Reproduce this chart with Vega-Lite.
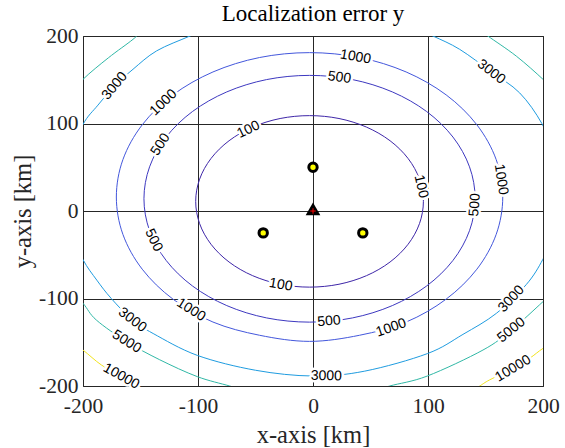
{
  "$schema": "https://vega.github.io/schema/vega-lite/v6.json",
  "autosize": {"type": "none"},
  "padding": {"left": 83, "top": 36, "right": 22, "bottom": 62},
  "width": 460,
  "height": 350,
  "title": {"text": "Localization error y", "font": "Liberation Serif", "fontSize": 23, "fontWeight": "normal", "color": "#000000", "baseline": "alphabetic", "offset": 0, "dy": 19, "anchor": "middle"},
  "config": {
    "view": {"stroke": "#262626", "strokeWidth": 1},
    "axis": {
      "grid": true, "gridColor": "#262626", "gridOpacity": 1, "gridWidth": 1,
      "ticks": false, "domain": false, "zindex": 1,
      "labelFont": "Liberation Serif", "labelFontSize": 21.5, "labelColor": "#262626",
      "labelFlush": false, "labelOverlap": false,
      "titleFont": "Liberation Serif", "titleFontSize": 24.5, "titleFontWeight": "normal", "titleColor": "#262626"
    }
  },
  "datasets": {
    "closed": [
      {"lv":"100","i":0,"x":96,"y":11},{"lv":"100","i":1,"x":92.6,"y":36.4},{"lv":"100","i":2,"x":82.7,"y":60},{"lv":"100","i":3,"x":67,"y":80.3},{"lv":"100","i":4,"x":46.5,"y":95.9},{"lv":"100","i":5,"x":22.6,"y":105.7},{"lv":"100","i":6,"x":-3,"y":109},{"lv":"100","i":7,"x":-28.6,"y":105.7},{"lv":"100","i":8,"x":-52.5,"y":95.9},{"lv":"100","i":9,"x":-73,"y":80.3},{"lv":"100","i":10,"x":-88.7,"y":60},{"lv":"100","i":11,"x":-98.6,"y":36.4},{"lv":"100","i":12,"x":-102,"y":11},{"lv":"100","i":13,"x":-98.6,"y":-14.4},{"lv":"100","i":14,"x":-88.7,"y":-38},{"lv":"100","i":15,"x":-73,"y":-58.3},{"lv":"100","i":16,"x":-52.5,"y":-73.9},{"lv":"100","i":17,"x":-28.6,"y":-83.7},{"lv":"100","i":18,"x":-3,"y":-87},{"lv":"100","i":19,"x":22.6,"y":-83.7},{"lv":"100","i":20,"x":46.5,"y":-73.9},{"lv":"100","i":21,"x":67,"y":-58.3},{"lv":"100","i":22,"x":82.7,"y":-38},{"lv":"100","i":23,"x":92.6,"y":-14.4},
      {"lv":"500","i":0,"x":141,"y":14},{"lv":"500","i":1,"x":136.1,"y":50.5},{"lv":"500","i":2,"x":121.7,"y":84.5},{"lv":"500","i":3,"x":98.8,"y":113.7},{"lv":"500","i":4,"x":69,"y":136.1},{"lv":"500","i":5,"x":34.3,"y":150.2},{"lv":"500","i":6,"x":-3,"y":155},{"lv":"500","i":7,"x":-40.3,"y":150.2},{"lv":"500","i":8,"x":-75,"y":136.1},{"lv":"500","i":9,"x":-104.8,"y":113.7},{"lv":"500","i":10,"x":-127.7,"y":84.5},{"lv":"500","i":11,"x":-142.1,"y":50.5},{"lv":"500","i":12,"x":-147,"y":14},{"lv":"500","i":13,"x":-142.1,"y":-22.5},{"lv":"500","i":14,"x":-127.7,"y":-56.5},{"lv":"500","i":15,"x":-104.8,"y":-85.7},{"lv":"500","i":16,"x":-75,"y":-108.1},{"lv":"500","i":17,"x":-40.3,"y":-122.2},{"lv":"500","i":18,"x":-3,"y":-127},{"lv":"500","i":19,"x":34.3,"y":-122.2},{"lv":"500","i":20,"x":69,"y":-108.1},{"lv":"500","i":21,"x":98.8,"y":-85.7},{"lv":"500","i":22,"x":121.7,"y":-56.5},{"lv":"500","i":23,"x":136.1,"y":-22.5},
      {"lv":"1000","i":0,"x":165,"y":16},{"lv":"1000","i":1,"x":159.3,"y":58.7},{"lv":"1000","i":2,"x":142.5,"y":98.5},{"lv":"1000","i":3,"x":115.8,"y":132.7},{"lv":"1000","i":4,"x":81,"y":158.9},{"lv":"1000","i":5,"x":40.5,"y":175.4},{"lv":"1000","i":6,"x":-3,"y":181},{"lv":"1000","i":7,"x":-46.5,"y":175.4},{"lv":"1000","i":8,"x":-87,"y":158.9},{"lv":"1000","i":9,"x":-121.8,"y":132.7},{"lv":"1000","i":10,"x":-148.5,"y":98.5},{"lv":"1000","i":11,"x":-165.3,"y":58.7},{"lv":"1000","i":12,"x":-171,"y":16},{"lv":"1000","i":13,"x":-165.3,"y":-26.7},{"lv":"1000","i":14,"x":-148.5,"y":-66.5},{"lv":"1000","i":15,"x":-121.8,"y":-100.7},{"lv":"1000","i":16,"x":-87,"y":-126.9},{"lv":"1000","i":17,"x":-46.5,"y":-142},{"lv":"1000","i":18,"x":-3,"y":-149},{"lv":"1000","i":19,"x":40.5,"y":-142},{"lv":"1000","i":20,"x":81,"y":-126.9},{"lv":"1000","i":21,"x":115.8,"y":-100.7},{"lv":"1000","i":22,"x":142.5,"y":-66.5},{"lv":"1000","i":23,"x":159.3,"y":-26.7}
    ],
    "open": [
      {"lv":"3000","s":"3000","i":1,"x":-85,"y":213},{"lv":"3000","s":"3000","i":2,"x":-107,"y":200},{"lv":"3000","s":"3000","i":3,"x":-136,"y":183},{"lv":"3000","s":"3000","i":4,"x":-156.5,"y":162},{"lv":"3000","s":"3000","i":5,"x":-172.5,"y":143},{"lv":"3000","s":"3000","i":6,"x":-187,"y":121},{"lv":"3000","s":"3000","i":7,"x":-200,"y":99},{"lv":"3000","s":"3000","i":8,"x":-212,"y":60},{"lv":"3000","s":"3000","i":9,"x":-218,"y":22},{"lv":"3000","s":"3000","i":10,"x":-212,"y":-20},{"lv":"3000","s":"3000","i":11,"x":-200,"y":-55.6},{"lv":"3000","s":"3000","i":12,"x":-188,"y":-79},{"lv":"3000","s":"3000","i":13,"x":-175.4,"y":-100},{"lv":"3000","s":"3000","i":14,"x":-157,"y":-124.6},{"lv":"3000","s":"3000","i":15,"x":-139,"y":-140},{"lv":"3000","s":"3000","i":16,"x":-100.6,"y":-165},{"lv":"3000","s":"3000","i":17,"x":-50,"y":-182},{"lv":"3000","s":"3000","i":18,"x":0,"y":-188.6},{"lv":"3000","s":"3000","i":19,"x":45,"y":-183},{"lv":"3000","s":"3000","i":20,"x":99.4,"y":-163},{"lv":"3000","s":"3000","i":21,"x":130.4,"y":-141},{"lv":"3000","s":"3000","i":22,"x":159.4,"y":-117},{"lv":"3000","s":"3000","i":23,"x":185.5,"y":-84},{"lv":"3000","s":"3000","i":24,"x":200,"y":-55},{"lv":"3000","s":"3000","i":25,"x":212,"y":-20},{"lv":"3000","s":"3000","i":26,"x":218,"y":22},{"lv":"3000","s":"3000","i":27,"x":212,"y":60},{"lv":"3000","s":"3000","i":28,"x":199,"y":100},{"lv":"3000","s":"3000","i":29,"x":179.7,"y":135},{"lv":"3000","s":"3000","i":30,"x":155,"y":159},{"lv":"3000","s":"3000","i":31,"x":127.5,"y":184.8},{"lv":"3000","s":"3000","i":32,"x":104.3,"y":200},{"lv":"3000","s":"3000","i":33,"x":82,"y":213},
      {"lv":"5000","s":"5a","i":1,"x":-215,"y":-85},{"lv":"5000","s":"5a","i":2,"x":-200,"y":-105.5},{"lv":"5000","s":"5a","i":3,"x":-188.4,"y":-124.6},{"lv":"5000","s":"5a","i":4,"x":-162,"y":-149.3},{"lv":"5000","s":"5a","i":5,"x":-133.3,"y":-170},{"lv":"5000","s":"5a","i":6,"x":-100.6,"y":-189.3},{"lv":"5000","s":"5a","i":7,"x":-72.5,"y":-200},{"lv":"5000","s":"5a","i":8,"x":-55,"y":-207},
      {"lv":"5000","s":"5b","i":1,"x":215,"y":-85},{"lv":"5000","s":"5b","i":2,"x":200,"y":-103.6},{"lv":"5000","s":"5b","i":3,"x":172.5,"y":-136},{"lv":"5000","s":"5b","i":4,"x":147.8,"y":-158.9},{"lv":"5000","s":"5b","i":5,"x":99.4,"y":-188.6},{"lv":"5000","s":"5b","i":6,"x":66.7,"y":-200},{"lv":"5000","s":"5b","i":7,"x":50,"y":-207},
      {"lv":"5000","s":"5c","i":1,"x":-215,"y":128},{"lv":"5000","s":"5c","i":2,"x":-200,"y":150.5},{"lv":"5000","s":"5c","i":3,"x":-178,"y":175},{"lv":"5000","s":"5c","i":4,"x":-156.5,"y":196.2},{"lv":"5000","s":"5c","i":5,"x":-150,"y":205},
      {"lv":"5000","s":"5d","i":1,"x":145,"y":207},{"lv":"5000","s":"5d","i":2,"x":152,"y":200},{"lv":"5000","s":"5d","i":3,"x":176.8,"y":177},{"lv":"5000","s":"5d","i":4,"x":200,"y":150.5},{"lv":"5000","s":"5d","i":5,"x":213,"y":133},
      {"lv":"10000","s":"Ta","i":1,"x":-214,"y":-146},{"lv":"10000","s":"Ta","i":2,"x":-200,"y":-158.9},{"lv":"10000","s":"Ta","i":3,"x":-184,"y":-176},{"lv":"10000","s":"Ta","i":4,"x":-166.7,"y":-188.6},{"lv":"10000","s":"Ta","i":5,"x":-152,"y":-200},{"lv":"10000","s":"Ta","i":6,"x":-142,"y":-207},
      {"lv":"10000","s":"Tb","i":1,"x":214,"y":-146},{"lv":"10000","s":"Tb","i":2,"x":200,"y":-157},{"lv":"10000","s":"Tb","i":3,"x":188.4,"y":-168.3},{"lv":"10000","s":"Tb","i":4,"x":174,"y":-180},{"lv":"10000","s":"Tb","i":5,"x":153.6,"y":-193},{"lv":"10000","s":"Tb","i":6,"x":145,"y":-200},{"lv":"10000","s":"Tb","i":7,"x":137,"y":-206}
    ],
    "labels": [
      {"t":"100","x":-56,"y":93,"a":-26},
      {"t":"100","x":-28,"y":-84.5,"a":10},
      {"t":"100","x":94,"y":28,"a":77},
      {"t":"500","x":23,"y":152.5,"a":8},
      {"t":"500","x":-132.5,"y":76,"a":-57},
      {"t":"500","x":-138.6,"y":-33.5,"a":64},
      {"t":"500","x":140.8,"y":7,"a":-86},
      {"t":"500","x":14,"y":-126,"a":-5},
      {"t":"1000","x":37,"y":176,"a":10},
      {"t":"1000","x":-130,"y":124,"a":-44},
      {"t":"1000","x":-106,"y":-113,"a":32},
      {"t":"1000","x":68,"y":-133.5,"a":-19},
      {"t":"1000","x":163.5,"y":36,"a":81},
      {"t":"3000","x":-172.5,"y":143,"a":-50},
      {"t":"3000","x":155,"y":159,"a":38},
      {"t":"3000","x":-157,"y":-124.6,"a":37},
      {"t":"3000","x":11.6,"y":-188.6,"a":1},
      {"t":"3000","x":172.5,"y":-100.5,"a":-47},
      {"t":"5000","x":-162,"y":-149.3,"a":32},
      {"t":"5000","x":172.5,"y":-136,"a":-39},
      {"t":"10000","x":-166.7,"y":-189,"a":29},
      {"t":"10000","x":174,"y":-180,"a":-31}
    ],
    "sensors": [
      {"x":0,"y":50},{"x":-43.3,"y":-25},{"x":43.3,"y":-25}
    ],
    "target": [
      {"x":0,"y":0}
    ]
  },
  "encoding": {
    "x": {"field": "x", "type": "quantitative", "scale": {"domain": [-200, 200], "nice": false, "zero": false},
          "axis": {"values": [-200, -100, 0, 100, 200], "title": "x-axis [km]", "labelPadding": 9, "labelExpr": "'' + datum.value", "titleX": 230, "titleY": 49, "titleBaseline": "middle", "titleAlign": "center"}},
    "y": {"field": "y", "type": "quantitative", "scale": {"domain": [-200, 200], "nice": false, "zero": false},
          "axis": {"values": [-200, -100, 0, 100, 200], "title": "y-axis [km]", "labelPadding": 5, "labelExpr": "'' + datum.value", "titleX": -60, "titleY": 175, "titleBaseline": "middle", "titleAlign": "center", "titleAngle": -90}}
  },
  "layer": [
    {
      "data": {"name": "closed"},
      "mark": {"type": "line", "interpolate": "cardinal-closed", "strokeWidth": 1, "clip": true},
      "encoding": {
        "color": {"field": "lv", "type": "nominal", "legend": null,
                  "scale": {"domain": ["100","500","1000","3000","5000","10000"], "range": ["#3e26a8","#3d38c0","#4357dc","#1f9ce0","#30b8a6","#f2e41c"]}},
        "detail": {"field": "lv"},
        "order": {"field": "i", "type": "quantitative"}
      }
    },
    {
      "data": {"name": "open"},
      "mark": {"type": "line", "interpolate": "cardinal", "strokeWidth": 1, "clip": true},
      "encoding": {
        "color": {"field": "lv", "type": "nominal", "legend": null,
                  "scale": {"domain": ["100","500","1000","3000","5000","10000"], "range": ["#3e26a8","#3d38c0","#4357dc","#1f9ce0","#30b8a6","#f2e41c"]}},
        "detail": {"field": "s"},
        "order": {"field": "i", "type": "quantitative"}
      }
    },
    {
      "data": {"name": "labels"},
      "mark": {"type": "text", "font": "Liberation Sans", "fontSize": 14, "align": "center", "baseline": "middle", "fill": "#ffffff", "stroke": "#ffffff", "strokeWidth": 5, "strokeJoin": "round"},
      "encoding": {
        "text": {"field": "t"},
        "angle": {"field": "a", "type": "quantitative", "scale": null}
      }
    },
    {
      "data": {"name": "labels"},
      "mark": {"type": "text", "font": "Liberation Sans", "fontSize": 14, "align": "center", "baseline": "middle", "color": "#000000"},
      "encoding": {
        "text": {"field": "t"},
        "angle": {"field": "a", "type": "quantitative", "scale": null}
      }
    },
    {
      "data": {"name": "sensors"},
      "mark": {"type": "point", "shape": "circle", "filled": true, "fill": "#ffff00", "stroke": "#000000", "strokeWidth": 3, "size": 70, "opacity": 1}
    },
    {
      "data": {"name": "target"},
      "mark": {"type": "point", "shape": "M0,-1.15L1,0.58L-1,0.58Z", "filled": true, "fill": "#000000", "size": 216, "opacity": 1}
    },
    {
      "data": {"name": "target"},
      "mark": {"type": "point", "shape": "M-1,0L1,0M0,-1L0,1", "filled": false, "stroke": "#ff0000", "strokeWidth": 1, "size": 30, "opacity": 1}
    }
  ]
}
